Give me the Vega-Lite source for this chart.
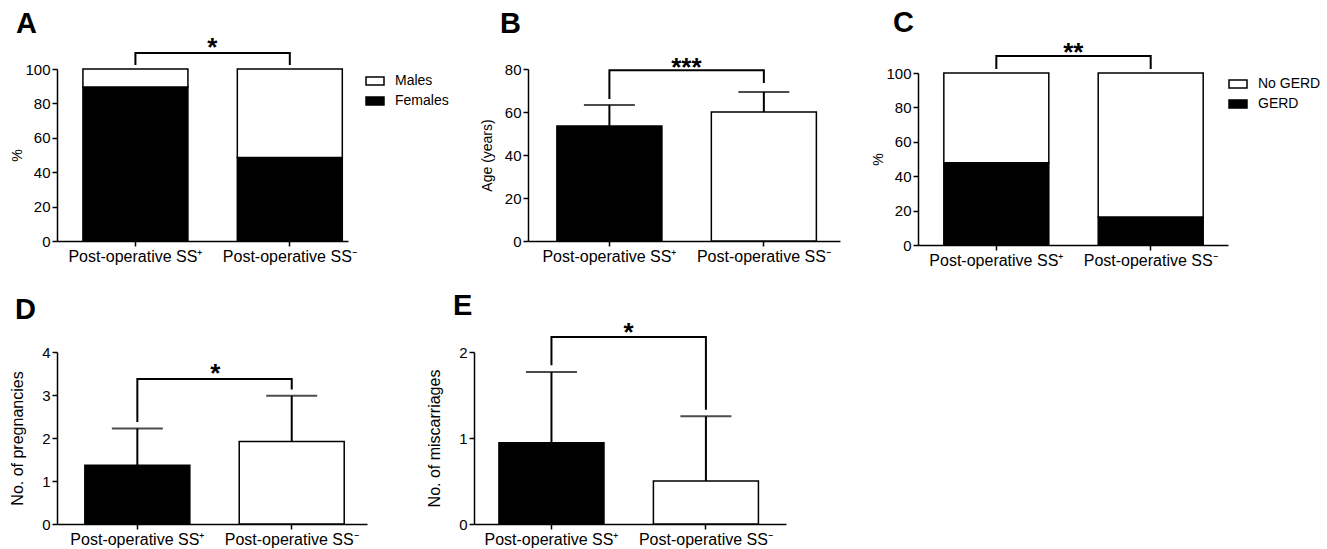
{
  "$schema": "https://vega.github.io/schema/vega-lite/v6.json",
  "background": "white",
  "padding": {"left": 9, "top": 8, "right": 5, "bottom": 5},
  "columns": 3,
  "spacing": {"row": 107, "column": 78},
  "bounds": "flush",
  "resolve": {"scale": {"color": "independent", "x": "independent", "y": "independent"}},
  "datasets": {
    "sex": [
      {"group": "Post-operative SS\u207a", "sex": "Females", "percent": 89.5},
      {"group": "Post-operative SS\u207a", "sex": "Males", "percent": 10.5},
      {"group": "Post-operative SS\u207b", "sex": "Females", "percent": 48.5},
      {"group": "Post-operative SS\u207b", "sex": "Males", "percent": 51.5}
    ],
    "gerd": [
      {"group": "Post-operative SS\u207a", "status": "GERD", "percent": 47.8},
      {"group": "Post-operative SS\u207a", "status": "No GERD", "percent": 52.2},
      {"group": "Post-operative SS\u207b", "status": "GERD", "percent": 16.3},
      {"group": "Post-operative SS\u207b", "status": "No GERD", "percent": 83.7}
    ],
    "age": [
      {"group": "Post-operative SS\u207a", "mean": 53.5, "upper": 63.3},
      {"group": "Post-operative SS\u207b", "mean": 60.0, "upper": 69.3}
    ],
    "preg": [
      {"group": "Post-operative SS\u207a", "mean": 1.365, "upper": 2.22},
      {"group": "Post-operative SS\u207b", "mean": 1.92, "upper": 2.98}
    ],
    "misc": [
      {"group": "Post-operative SS\u207a", "mean": 0.945, "upper": 1.767},
      {"group": "Post-operative SS\u207b", "mean": 0.5, "upper": 1.252}
    ],
    "brackets": [
      {"panel": "A", "group": "Post-operative SS\u207a", "y": 102.3, "step": 1},
      {"panel": "A", "group": "Post-operative SS\u207a", "y": 109.3, "step": 2},
      {"panel": "A", "group": "Post-operative SS\u207b", "y": 109.3, "step": 3},
      {"panel": "A", "group": "Post-operative SS\u207b", "y": 102.3, "step": 4},
      {"panel": "B", "group": "Post-operative SS\u207a", "y": 66.0, "step": 1},
      {"panel": "B", "group": "Post-operative SS\u207a", "y": 79.4, "step": 2},
      {"panel": "B", "group": "Post-operative SS\u207b", "y": 79.4, "step": 3},
      {"panel": "B", "group": "Post-operative SS\u207b", "y": 73.5, "step": 4},
      {"panel": "C", "group": "Post-operative SS\u207a", "y": 102.3, "step": 1},
      {"panel": "C", "group": "Post-operative SS\u207a", "y": 109.9, "step": 2},
      {"panel": "C", "group": "Post-operative SS\u207b", "y": 109.9, "step": 3},
      {"panel": "C", "group": "Post-operative SS\u207b", "y": 102.3, "step": 4},
      {"panel": "D", "group": "Post-operative SS\u207a", "y": 2.37, "step": 1},
      {"panel": "D", "group": "Post-operative SS\u207a", "y": 3.37, "step": 2},
      {"panel": "D", "group": "Post-operative SS\u207b", "y": 3.37, "step": 3},
      {"panel": "D", "group": "Post-operative SS\u207b", "y": 3.13, "step": 4},
      {"panel": "E", "group": "Post-operative SS\u207a", "y": 1.845, "step": 1},
      {"panel": "E", "group": "Post-operative SS\u207a", "y": 2.174, "step": 2},
      {"panel": "E", "group": "Post-operative SS\u207b", "y": 2.174, "step": 3},
      {"panel": "E", "group": "Post-operative SS\u207b", "y": 1.329, "step": 4}
    ],
    "stars": [
      {"panel": "A", "group": "Post-operative SS\u207a", "y": 109.3, "label": "*"},
      {"panel": "B", "group": "Post-operative SS\u207a", "y": 79.4, "label": "***"},
      {"panel": "C", "group": "Post-operative SS\u207a", "y": 109.9, "label": "**"},
      {"panel": "D", "group": "Post-operative SS\u207a", "y": 3.37, "label": "*"},
      {"panel": "E", "group": "Post-operative SS\u207a", "y": 2.174, "label": "*"}
    ]
  },
  "concat": [
    {
      "width": 339, "height": 172,
      "title": {"text": "A", "dx": -41, "offset": -4},
      "layer": [
        {
          "data": {"name": "sex"},
          "mark": {"type": "bar", "stroke": "black", "strokeWidth": 1.5},
          "encoding": {
            "x": {"field": "group", "type": "nominal", "sort": null, "title": null,
              "scale": {"range": [0, 291], "paddingInner": 0.32, "paddingOuter": 0.1024, "align": 0.82}},
            "y": {"field": "percent", "type": "quantitative", "stack": "zero", "title": "%",
              "scale": {"domain": [0, 100]}, "axis": {"values": [0, 20, 40, 60, 80, 100], "tickCount": 12, "format": "d", "titlePadding": 0}},
            "color": {"field": "sex", "type": "nominal",
              "scale": {"domain": ["Males", "Females"], "range": ["white", "black"]},
              "legend": {"orient": "right", "offset": -33, "title": null}},
            "order": {"field": "sex", "sort": "ascending"}
          }
        },
        {
          "data": {"name": "brackets"},
          "transform": [{"filter": "datum.panel === 'A'"}],
          "mark": {"type": "line", "color": "black", "strokeWidth": 2},
          "encoding": {
            "x": {"field": "group", "type": "nominal", "sort": null, "title": null},
            "y": {"field": "y", "type": "quantitative", "title": "%", "axis": {"values": [0, 20, 40, 60, 80, 100], "tickCount": 12, "format": "d", "titlePadding": 0}},
            "order": {"field": "step"}
          }
        },
        {
          "data": {"name": "stars"},
          "transform": [{"filter": "datum.panel === 'A'"}],
          "mark": {"type": "text", "font": "Liberation Sans", "fontWeight": "bold", "fontSize": 26, "dx": 77, "dy": 3, "baseline": "alphabetic", "color": "black"},
          "encoding": {
            "x": {"field": "group", "type": "nominal", "sort": null, "title": null},
            "y": {"field": "y", "type": "quantitative", "title": "%", "axis": {"values": [0, 20, 40, 60, 80, 100], "tickCount": 12, "format": "d", "titlePadding": 0}},
            "text": {"field": "label"}
          }
        }
      ]
    },
    {
      "width": 366, "height": 172,
      "title": {"text": "B", "dx": 26, "offset": 16},
      "layer": [
        {
          "data": {"name": "age"},
          "mark": {"type": "bar", "stroke": "black", "strokeWidth": 1.5},
          "encoding": {
            "x": {"field": "group", "type": "nominal", "sort": null, "title": null,
              "scale": {"range": [54, 366], "paddingInner": 0.32, "paddingOuter": 0.17, "align": 0.55}},
            "y": {"field": "mean", "type": "quantitative", "title": "Age (years)",
              "scale": {"domain": [0, 80]}, "axis": {"values": [0, 20, 40, 60, 80], "tickCount": 12, "format": "d", "titlePadding": 10, "offset": -54}},
            "fill": {"condition": {"test": "datum.group === 'Post-operative SS\u207a'", "value": "black"}, "value": "white"}
          }
        },
        {
          "data": {"name": "age"},
          "mark": {"type": "rule", "color": "black", "strokeWidth": 2},
          "encoding": {
            "x": {"field": "group", "type": "nominal", "sort": null, "title": null},
            "y": {"field": "mean", "type": "quantitative", "title": "Age (years)", "axis": {"values": [0, 20, 40, 60, 80], "tickCount": 12, "format": "d", "titlePadding": 10, "offset": -54}},
            "y2": {"field": "upper"}
          }
        },
        {
          "data": {"name": "age"},
          "mark": {"type": "tick", "color": "black", "size": 51, "thickness": 2},
          "encoding": {
            "x": {"field": "group", "type": "nominal", "sort": null, "title": null},
            "y": {"field": "upper", "type": "quantitative", "title": "Age (years)", "axis": {"values": [0, 20, 40, 60, 80], "tickCount": 12, "format": "d", "titlePadding": 10, "offset": -54}}
          }
        },
        {
          "data": {"name": "brackets"},
          "transform": [{"filter": "datum.panel === 'B'"}],
          "mark": {"type": "line", "color": "black", "strokeWidth": 2},
          "encoding": {
            "x": {"field": "group", "type": "nominal", "sort": null, "title": null},
            "y": {"field": "y", "type": "quantitative", "title": "Age (years)", "axis": {"values": [0, 20, 40, 60, 80], "tickCount": 12, "format": "d", "titlePadding": 10, "offset": -54}},
            "order": {"field": "step"}
          }
        },
        {
          "data": {"name": "stars"},
          "transform": [{"filter": "datum.panel === 'B'"}],
          "mark": {"type": "text", "font": "Liberation Sans", "fontWeight": "bold", "fontSize": 26, "dx": 77, "dy": 6, "baseline": "alphabetic", "color": "black"},
          "encoding": {
            "x": {"field": "group", "type": "nominal", "sort": null, "title": null},
            "y": {"field": "y", "type": "quantitative", "title": "Age (years)", "axis": {"values": [0, 20, 40, 60, 80], "tickCount": 12, "format": "d", "titlePadding": 10, "offset": -54}},
            "text": {"field": "label"}
          }
        }
      ]
    },
    {
      "width": 310, "height": 176,
      "title": {"text": "C", "dx": -25, "offset": 2},
      "layer": [
        {
          "data": {"name": "gerd"},
          "mark": {"type": "bar", "stroke": "black", "strokeWidth": 1.5},
          "encoding": {
            "x": {"field": "group", "type": "nominal", "sort": null, "title": null,
              "scale": {"paddingInner": 0.32, "paddingOuter": 0.164, "align": 0.51}},
            "y": {"field": "percent", "type": "quantitative", "stack": "zero", "title": "%",
              "scale": {"domain": [0, 100], "range": [176, 4]}, "axis": {"values": [0, 20, 40, 60, 80, 100], "tickCount": 12, "format": "d", "titlePadding": 0}},
            "color": {"field": "status", "type": "nominal",
              "scale": {"domain": ["No GERD", "GERD"], "range": ["white", "black"]},
              "legend": {"orient": "right", "offset": -5, "padding": 5, "title": null}},
            "order": {"field": "status", "sort": "ascending"}
          }
        },
        {
          "data": {"name": "brackets"},
          "transform": [{"filter": "datum.panel === 'C'"}],
          "mark": {"type": "line", "color": "black", "strokeWidth": 2},
          "encoding": {
            "x": {"field": "group", "type": "nominal", "sort": null, "title": null},
            "y": {"field": "y", "type": "quantitative", "title": "%", "axis": {"values": [0, 20, 40, 60, 80, 100], "tickCount": 12, "format": "d", "titlePadding": 0}},
            "order": {"field": "step"}
          }
        },
        {
          "data": {"name": "stars"},
          "transform": [{"filter": "datum.panel === 'C'"}],
          "mark": {"type": "text", "font": "Liberation Sans", "fontWeight": "bold", "fontSize": 26, "dx": 77, "dy": 5, "baseline": "alphabetic", "color": "black"},
          "encoding": {
            "x": {"field": "group", "type": "nominal", "sort": null, "title": null},
            "y": {"field": "y", "type": "quantitative", "title": "%", "axis": {"values": [0, 20, 40, 60, 80, 100], "tickCount": 12, "format": "d", "titlePadding": 0}},
            "text": {"field": "label"}
          }
        }
      ]
    },
    {
      "width": 339, "height": 172,
      "title": {"text": "D", "dx": -42, "offset": 20},
      "layer": [
        {
          "data": {"name": "preg"},
          "mark": {"type": "bar", "stroke": "black", "strokeWidth": 1.5},
          "encoding": {
            "x": {"field": "group", "type": "nominal", "sort": null, "title": null,
              "scale": {"range": [0, 310], "paddingInner": 0.32, "paddingOuter": 0.164, "align": 0.55}},
            "y": {"field": "mean", "type": "quantitative", "title": "No. of pregnancies",
              "scale": {"domain": [0, 4]}, "axis": {"values": [0, 1, 2, 3, 4], "tickCount": 12, "format": "d", "titlePadding": 16, "titleFontSize": 16}},
            "fill": {"condition": {"test": "datum.group === 'Post-operative SS\u207a'", "value": "black"}, "value": "white"}
          }
        },
        {
          "data": {"name": "preg"},
          "mark": {"type": "rule", "color": "black", "strokeWidth": 2},
          "encoding": {
            "x": {"field": "group", "type": "nominal", "sort": null, "title": null},
            "y": {"field": "mean", "type": "quantitative", "title": "No. of pregnancies", "axis": {"values": [0, 1, 2, 3, 4], "tickCount": 12, "format": "d", "titlePadding": 16, "titleFontSize": 16}},
            "y2": {"field": "upper"}
          }
        },
        {
          "data": {"name": "preg"},
          "mark": {"type": "tick", "color": "black", "size": 51, "thickness": 2},
          "encoding": {
            "x": {"field": "group", "type": "nominal", "sort": null, "title": null},
            "y": {"field": "upper", "type": "quantitative", "title": "No. of pregnancies", "axis": {"values": [0, 1, 2, 3, 4], "tickCount": 12, "format": "d", "titlePadding": 16, "titleFontSize": 16}}
          }
        },
        {
          "data": {"name": "brackets"},
          "transform": [{"filter": "datum.panel === 'D'"}],
          "mark": {"type": "line", "color": "black", "strokeWidth": 2},
          "encoding": {
            "x": {"field": "group", "type": "nominal", "sort": null, "title": null},
            "y": {"field": "y", "type": "quantitative", "title": "No. of pregnancies", "axis": {"values": [0, 1, 2, 3, 4], "tickCount": 12, "format": "d", "titlePadding": 16, "titleFontSize": 16}},
            "order": {"field": "step"}
          }
        },
        {
          "data": {"name": "stars"},
          "transform": [{"filter": "datum.panel === 'D'"}],
          "mark": {"type": "text", "font": "Liberation Sans", "fontWeight": "bold", "fontSize": 26, "dx": 78, "dy": 3, "baseline": "alphabetic", "color": "black"},
          "encoding": {
            "x": {"field": "group", "type": "nominal", "sort": null, "title": null},
            "y": {"field": "y", "type": "quantitative", "title": "No. of pregnancies", "axis": {"values": [0, 1, 2, 3, 4], "tickCount": 12, "format": "d", "titlePadding": 16, "titleFontSize": 16}},
            "text": {"field": "label"}
          }
        }
      ]
    },
    {
      "width": 312, "height": 172,
      "title": {"text": "E", "dx": -21, "offset": -1},
      "layer": [
        {
          "data": {"name": "misc"},
          "mark": {"type": "bar", "stroke": "black", "strokeWidth": 1.5},
          "encoding": {
            "x": {"field": "group", "type": "nominal", "sort": null, "title": null,
              "scale": {"paddingInner": 0.32, "paddingOuter": 0.17, "align": 0.475}},
            "y": {"field": "mean", "type": "quantitative", "title": "No. of miscarriages",
              "scale": {"domain": [0, 2]}, "axis": {"values": [0, 1, 2], "labelExpr": "format(datum.value, 'd')", "titlePadding": 16, "titleFontSize": 16}},
            "fill": {"condition": {"test": "datum.group === 'Post-operative SS\u207a'", "value": "black"}, "value": "white"}
          }
        },
        {
          "data": {"name": "misc"},
          "mark": {"type": "rule", "color": "black", "strokeWidth": 2},
          "encoding": {
            "x": {"field": "group", "type": "nominal", "sort": null, "title": null},
            "y": {"field": "mean", "type": "quantitative", "title": "No. of miscarriages", "axis": {"values": [0, 1, 2], "labelExpr": "format(datum.value, 'd')", "titlePadding": 16, "titleFontSize": 16}},
            "y2": {"field": "upper"}
          }
        },
        {
          "data": {"name": "misc"},
          "mark": {"type": "tick", "color": "black", "size": 51, "thickness": 2},
          "encoding": {
            "x": {"field": "group", "type": "nominal", "sort": null, "title": null},
            "y": {"field": "upper", "type": "quantitative", "title": "No. of miscarriages", "axis": {"values": [0, 1, 2], "labelExpr": "format(datum.value, 'd')", "titlePadding": 16, "titleFontSize": 16}}
          }
        },
        {
          "data": {"name": "brackets"},
          "transform": [{"filter": "datum.panel === 'E'"}],
          "mark": {"type": "line", "color": "black", "strokeWidth": 2},
          "encoding": {
            "x": {"field": "group", "type": "nominal", "sort": null, "title": null},
            "y": {"field": "y", "type": "quantitative", "title": "No. of miscarriages", "axis": {"values": [0, 1, 2], "labelExpr": "format(datum.value, 'd')", "titlePadding": 16, "titleFontSize": 16}},
            "order": {"field": "step"}
          }
        },
        {
          "data": {"name": "stars"},
          "transform": [{"filter": "datum.panel === 'E'"}],
          "mark": {"type": "text", "font": "Liberation Sans", "fontWeight": "bold", "fontSize": 26, "dx": 77, "dy": 4, "baseline": "alphabetic", "color": "black"},
          "encoding": {
            "x": {"field": "group", "type": "nominal", "sort": null, "title": null},
            "y": {"field": "y", "type": "quantitative", "title": "No. of miscarriages", "axis": {"values": [0, 1, 2], "labelExpr": "format(datum.value, 'd')", "titlePadding": 16, "titleFontSize": 16}},
            "text": {"field": "label"}
          }
        }
      ]
    }
  ],
  "config": {
    "font": "Liberation Sans",
    "view": {"stroke": null},
    "title": {"font": "Liberation Sans", "fontSize": 29, "fontWeight": "bold", "anchor": "start", "frame": "group", "baseline": "alphabetic", "color": "black"},
    "axis": {
      "grid": false, "domainColor": "black", "domainWidth": 1.5, "tickColor": "black", "tickWidth": 1.5, "tickSize": 5,
      "labelColor": "black", "labelFont": "Liberation Sans", "titleFont": "Liberation Sans", "titleColor": "black",
      "titleFontWeight": "normal", "labelFlush": false, "labelOverlap": false
    },
    "axisX": {"labelFontSize": 16, "labelPadding": 2, "labelAngle": 0, "labelLimit": 300},
    "axisY": {"labelFontSize": 15, "labelPadding": 2, "titleFontSize": 14},
    "legend": {
      "symbolType": "M-1,-0.45H1V0.45H-1Z", "symbolSize": 324, "symbolStrokeColor": "black", "symbolStrokeWidth": 1.5,
      "labelFont": "Liberation Sans", "labelFontSize": 14, "labelColor": "black", "rowPadding": 2, "labelOffset": 10, "padding": 2
    }
  }
}
